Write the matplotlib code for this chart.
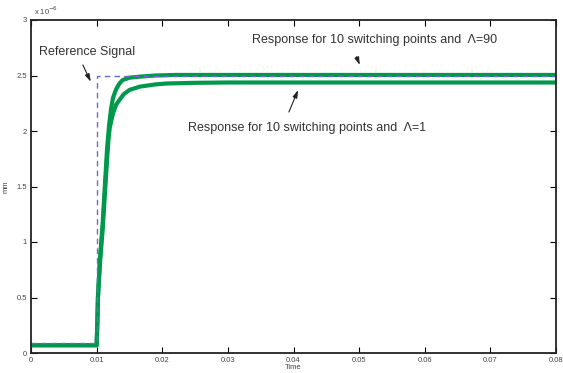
import matplotlib
matplotlib.use("Agg")
import matplotlib.pyplot as plt

plt.rcParams['font.family'] = ['Liberation Sans', 'DejaVu Sans']

# Reference signal (units of 1e-6 mm)
ref_t = [0.0, 0.0100, 0.0100, 0.08]
ref_y = [0.09, 0.09, 2.50, 2.50]

# Response, Lambda = 90
r90_t = [0.0, 0.0100, 0.0101, 0.0102, 0.0105, 0.0109, 0.0112, 0.0116, 0.0119,
         0.0122, 0.0125, 0.0130, 0.0135, 0.0140, 0.0150, 0.0166, 0.0190,
         0.0220, 0.0300, 0.0400, 0.0800]
r90_y = [0.07, 0.07, 0.25, 0.50, 0.85, 1.15, 1.45, 1.85, 2.05,
         2.20, 2.30, 2.38, 2.43, 2.46, 2.48, 2.49, 2.50,
         2.505, 2.505, 2.505, 2.505]

# Response, Lambda = 1
r1_t = [0.0, 0.0100, 0.0101, 0.0102, 0.0105, 0.0109, 0.0112, 0.0116, 0.0118,
        0.0120, 0.0125, 0.0130, 0.0141, 0.0150, 0.0166, 0.0190, 0.0207,
        0.0250, 0.0300, 0.0400, 0.0800]
r1_y = [0.07, 0.07, 0.25, 0.50, 0.80, 1.10, 1.38, 1.75, 1.92,
        2.03, 2.16, 2.24, 2.33, 2.37, 2.40, 2.42, 2.428,
        2.434, 2.437, 2.437, 2.437]

x_ticks = [0, 0.01, 0.02, 0.03, 0.04, 0.05, 0.06, 0.07, 0.08]
x_labels = ["0", "0.01", "0.02", "0.03", "0.04", "0.05", "0.06", "0.07", "0.08"]
y_ticks = [0, 0.5, 1, 1.5, 2, 2.5, 3]
y_labels = ["0", "0.5", "1", "1.5", "2", "2.5", "3"]

green = "#00994c"
blue = "#6b6bc8"

fig = plt.figure(figsize=(5.63, 3.73), dpi=100)
ax = fig.add_axes([31/563, 1-353/373, 525/563, 333/373])

ax.plot(r1_t, r1_y, color=green, lw=3.0)
ax.plot(r90_t, r90_y, color=green, lw=3.0)
ax.plot(ref_t, ref_y, color=blue, lw=1.0, ls=(0, (4, 3)))

ax.set_xlim(0, 0.08)
ax.set_ylim(0, 3)
ax.set_xticks(x_ticks)
ax.set_xticklabels(x_labels)
ax.set_yticks(y_ticks)
ax.set_yticklabels(y_labels)
ax.tick_params(direction="in", length=4, width=0.8, labelsize=5.5,
               labelcolor="#444444", top=True, right=True, pad=3)
for s in ax.spines.values():
    s.set_linewidth(1.3)
    s.set_color("#222222")

ax.set_xlabel("Time", fontsize=5.5, color="#444444", labelpad=0)
ax.set_ylabel("mm", fontsize=5.5, color="#444444", labelpad=5)
fig.text(34/563, 1-11/373, r"x 10$^{-6}$", fontsize=5.5, color="#444444",
         va="center", ha="left")

arrow = dict(arrowstyle="-|>,head_length=0.45,head_width=0.14",
             color="#222222", lw=0.8, shrinkA=0, shrinkB=0)

ax.text(0.00122, 2.71, "Reference Signal", fontsize=9, color="#333333",
        ha="left", va="center")
ax.annotate("", xy=(0.0091, 2.444), xytext=(0.0079, 2.595), arrowprops=arrow)

ax.text(0.0524, 2.82, "Response for 10 switching points and  \u039b=90",
        fontsize=9, color="#333333", ha="center", va="center")
ax.annotate("", xy=(0.0501, 2.595), xytext=(0.0496, 2.669), arrowprops=arrow)

ax.text(0.0421, 2.027, "Response for 10 switching points and  \u039b=1",
        fontsize=9, color="#333333", ha="center", va="center")
ax.annotate("", xy=(0.0407, 2.369), xytext=(0.0393, 2.171), arrowprops=arrow)

fig.savefig("out.png", dpi=100)
